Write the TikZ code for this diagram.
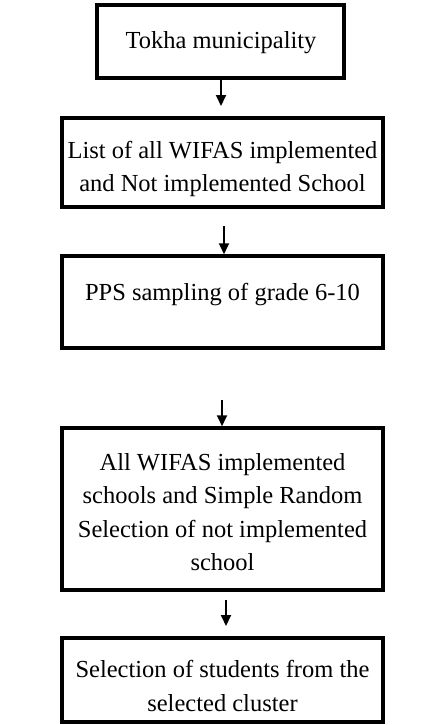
\documentclass[tikz,border=0pt]{standalone}
\usepackage{fontspec}
\setmainfont{Liberation Serif}
\usetikzlibrary{arrows.meta}
\tikzset{
  flowbox/.style={draw=black, line width=3.5pt, rectangle, inner sep=0pt},
  flowtxt/.style={font=\fontsize{24.5}{33.3}\selectfont, align=center, inner sep=0pt, anchor=base},
  flowarrow/.style={line width=2pt, -{Triangle[length=11pt,width=10pt]}}
}
\begin{document}
\begin{tikzpicture}[x=1pt,y=-1pt]
\useasboundingbox (0,0) rectangle (446,725);
% boxes (centre x, centre y)
\node[flowbox, minimum width=247pt, minimum height=73pt] (b1) at (220.5,41.5) {};
\node[flowbox, minimum width=321pt, minimum height=89pt] (b2) at (222.5,162.5) {};
\node[flowbox, minimum width=321pt, minimum height=92pt] (b3) at (222.5,302) {};
\node[flowbox, minimum width=321pt, minimum height=162pt] (b4) at (222.5,509) {};
\node[flowbox, minimum width=321pt, minimum height=84pt] (b5) at (222.5,680) {};
% texts (anchor base = last line baseline)
\node[flowtxt] (t1) at (221,48.5) {Tokha municipality};
\node[flowtxt] (t2) at (222.5,191.5) {List of all WIFAS implemented\\and Not implemented School};
\node[flowtxt] (t3) at (222.5,300.5) {PPS sampling of grade 6-10};
\node[flowtxt] (t4) at (222.5,570.5) {All WIFAS implemented\\schools and Simple Random\\Selection of not implemented\\school};
\node[flowtxt] (t5) at (222.5,711) {Selection of students from the\\selected cluster};
% arrows
\coordinate (a1e) at (221,106);
\coordinate (a2s) at (224,226);
\coordinate (a3s) at (222,400);
\coordinate (a4s) at (226,600);
\coordinate (a4e) at (226,626);
\draw[flowarrow] (b1.south -| a1e) -- (a1e);
\draw[flowarrow] (a2s) -- (a2s |- b3.north);
\draw[flowarrow] (a3s) -- (a3s |- b4.north);
\draw[flowarrow] (a4s) -- (a4e);
\end{tikzpicture}
\end{document}
